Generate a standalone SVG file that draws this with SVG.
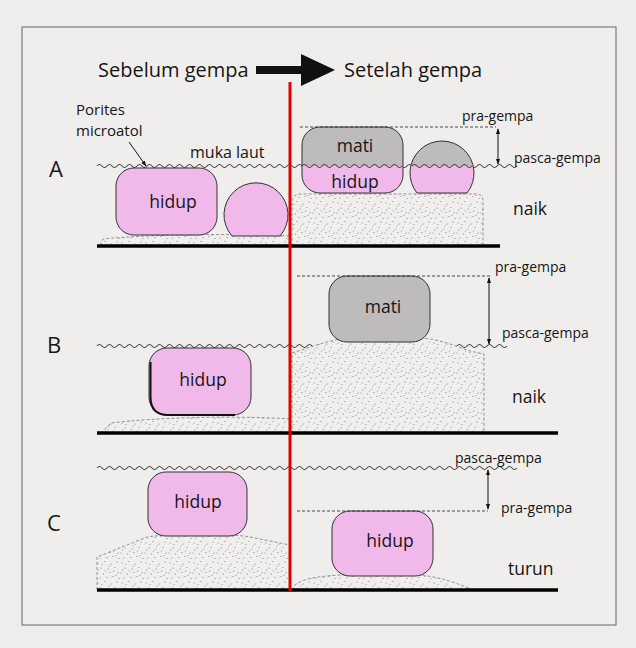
<svg xmlns="http://www.w3.org/2000/svg" width="636" height="648" viewBox="0 0 636 648">
  <defs>
    <style>
      text { font-family: "Open Sans", "Liberation Sans", sans-serif; fill: #161616; }
      .title { font-size: 20px; }
      .panel { font-size: 22px; }
      .lbl { font-size: 17.5px; }
      .small { font-size: 14px; }
      .wave { fill: none; stroke: #444; stroke-width: 1.1; }
      .coral { stroke: #333; stroke-width: 1; }
      .live { fill: #f0b9ea; }
      .dead { fill: #bdbbbb; }
      .sed { fill: url(#stipple); stroke: #888; stroke-width: 0.9; stroke-dasharray: 3 2; }
      .ground { stroke: #000; stroke-width: 3.5; }
      .level { stroke: #333; stroke-width: 0.9; stroke-dasharray: 3 2; }
      .dim { stroke: #111; stroke-width: 1; marker-start: url(#tip); marker-end: url(#tip); }
    </style>
    <pattern id="stipple" width="24" height="20" patternUnits="userSpaceOnUse">
      <rect width="24" height="20" fill="#f1efed"/>
      <g fill="#777">
        <circle cx="2" cy="3" r="0.6"/><circle cx="9" cy="1.5" r="0.55"/><circle cx="15" cy="4" r="0.6"/>
        <circle cx="21" cy="2" r="0.55"/><circle cx="5" cy="8" r="0.55"/><circle cx="12" cy="9" r="0.6"/>
        <circle cx="19" cy="7.5" r="0.55"/><circle cx="1" cy="13" r="0.55"/><circle cx="7.5" cy="14" r="0.6"/>
        <circle cx="14" cy="12.5" r="0.55"/><circle cx="22" cy="13" r="0.6"/><circle cx="4" cy="18" r="0.55"/>
        <circle cx="11" cy="17.5" r="0.6"/><circle cx="17" cy="16.5" r="0.55"/><circle cx="23" cy="18.5" r="0.55"/>
        <circle cx="6" cy="4.5" r="0.5"/><circle cx="17.5" cy="11" r="0.5"/><circle cx="9.5" cy="11" r="0.5"/>
        <circle cx="20" cy="15.5" r="0.5"/><circle cx="2.5" cy="10" r="0.5"/><circle cx="13" cy="6" r="0.5"/>
      </g>
    </pattern>
    <!-- hard split: dead (grey) above the post-quake sea level, live (pink) below -->
    <linearGradient id="split" gradientUnits="userSpaceOnUse" x1="0" y1="0" x2="0" y2="648">
      <stop offset="0.2562" stop-color="#bdbbbb"/>
      <stop offset="0.2562" stop-color="#f0b9ea"/>
    </linearGradient>
    <marker id="tip" viewBox="0 0 8 8" refX="7" refY="4" markerWidth="6" markerHeight="6" orient="auto-start-reverse" markerUnits="userSpaceOnUse">
      <path d="M0,1.2 L8,4 L0,6.8 Z" fill="#111"/>
    </marker>
  </defs>

  <!-- page and frame -->
  <rect width="636" height="648" fill="#efedeb"/>
  <rect x="22" y="27" width="594" height="598" fill="#f0eeec" stroke="#666" stroke-width="1"/>

  <!-- heading -->
  <g id="heading">
    <text class="title" x="98" y="77">Sebelum gempa</text>
    <path d="M256,66 L301,66 L301,54 L335,70 L301,86 L301,74 L256,74 Z" fill="#111"/>
    <text class="title" x="344" y="77">Setelah gempa</text>
  </g>

  <!-- sea-level waves -->
  <g id="waves">
    <path class="wave" d="M97,166 q2.5,-3 5,0 t5,0 t5,0 t5,0 t5,0 t5,0 t5,0 t5,0 t5,0 t5,0 t5,0 t5,0 t5,0 t5,0 t5,0 t5,0 t5,0 t5,0 t5,0 t5,0 t5,0 t5,0 t5,0 t5,0 t5,0 t5,0 t5,0 t5,0 t5,0 t5,0 t5,0 t5,0 t5,0 t5,0 t5,0 t5,0 t5,0 t5,0 t5,0 t5,0 t5,0 t5,0 t5,0 t5,0 t5,0 t5,0 t5,0 t5,0 t5,0 t5,0 t5,0 t5,0 t5,0 t5,0 t5,0 t5,0 t5,0 t5,0 t5,0 t5,0 t5,0 t5,0 t5,0 t5,0 t5,0 t5,0 t5,0 t5,0 t5,0 t5,0 t5,0 t5,0 t5,0 t5,0 t5,0 t5,0 t5,0 t5,0 t5,0 t5,0 t5,0 t5,0 t5,0 t5,0"/>
    <path class="wave" d="M97,346 q2.5,-3 5,0 t5,0 t5,0 t5,0 t5,0 t5,0 t5,0 t5,0 t5,0 t5,0 t5,0 t5,0 t5,0 t5,0 t5,0 t5,0 t5,0 t5,0 t5,0 t5,0 t5,0 t5,0 t5,0 t5,0 t5,0 t5,0 t5,0 t5,0 t5,0 t5,0 t5,0 t5,0 t5,0 t5,0 t5,0 t5,0 t5,0 t5,0 t5,0 t5,0 t5,0 t5,0 t5,0 t5,0 t5,0 t5,0 t5,0 t5,0 t5,0 t5,0 t5,0 t5,0 t5,0 t5,0 t5,0 t5,0 t5,0 t5,0 t5,0 t5,0 t5,0 t5,0 t5,0 t5,0 t5,0 t5,0 t5,0 t5,0 t5,0 t5,0 t5,0 t5,0 t5,0 t5,0 t5,0 t5,0 t5,0 t5,0 t5,0 t5,0 t5,0 t5,0"/>
    <path class="wave" d="M97,468 q2.5,-3 5,0 t5,0 t5,0 t5,0 t5,0 t5,0 t5,0 t5,0 t5,0 t5,0 t5,0 t5,0 t5,0 t5,0 t5,0 t5,0 t5,0 t5,0 t5,0 t5,0 t5,0 t5,0 t5,0 t5,0 t5,0 t5,0 t5,0 t5,0 t5,0 t5,0 t5,0 t5,0 t5,0 t5,0 t5,0 t5,0 t5,0 t5,0 t5,0 t5,0 t5,0 t5,0 t5,0 t5,0 t5,0 t5,0 t5,0 t5,0 t5,0 t5,0 t5,0 t5,0 t5,0 t5,0 t5,0 t5,0 t5,0 t5,0 t5,0 t5,0 t5,0 t5,0 t5,0 t5,0 t5,0 t5,0 t5,0 t5,0 t5,0 t5,0 t5,0 t5,0 t5,0 t5,0 t5,0 t5,0 t5,0 t5,0 t5,0 t5,0 t5,0 t5,0 t5,0 t5,0"/>
  </g>

  <!-- Panel A: uplift, coral tops die above new sea level -->
  <g id="panel-a">
    <text class="panel" x="49" y="177">A</text>
    <text x="76" y="115" style="font-size:15px">Porites</text>
    <text x="76" y="136" style="font-size:15px">microatol</text>
    <text x="190" y="158" style="font-size:16px">muka laut</text>
    <path class="sed" d="M100,245 L103,239 C140,235 220,233 290,236 L290,245 Z"/>
    <path class="sed" d="M292,246 L292,201 Q293,194 301,194 L477,194 Q483,195 483,201 L483,246 Z"/>
  </g>
  <g id="coral-a-before">
    <rect class="coral live" x="116" y="168" width="101" height="67" rx="18"/>
    <text class="lbl" x="173" y="208" text-anchor="middle">hidup</text>
    <path class="coral live" d="M232,236 A32,32 0 1 1 280,236 Z"/>
  </g>
  <g id="coral-a-after">
    <rect class="coral" x="302" y="127" width="101" height="66" rx="18" fill="url(#split)"/>
    <path class="coral" d="M417,193 A32,32 0 1 1 467,193 Z" fill="url(#split)"/>
    <text class="lbl" x="355" y="152" text-anchor="middle">mati</text>
    <text class="lbl" x="355" y="188" text-anchor="middle">hidup</text>
    <path class="wave" d="M302,166 q2.5,-3 5,0 t5,0 t5,0 t5,0 t5,0 t5,0 t5,0 t5,0 t5,0 t5,0 t5,0 t5,0 t5,0 t5,0 t5,0 t5,0 t5,0 t5,0 t5,0 t5,0"/>
    <path class="wave" d="M412,166 q2.5,-3 5,0 t5,0 t5,0 t5,0 t5,0 t5,0 t5,0 t5,0 t5,0 t5,0 t5,0 t5,0"/>
  </g>
  <g id="levels-a">
    <line class="level" x1="300" y1="127" x2="496" y2="127"/>
    <line class="dim" x1="498" y1="129" x2="498" y2="164"/>
    <text class="small" x="462" y="121">pra-gempa</text>
    <text class="small" x="514" y="163">pasca-gempa</text>
    <text class="lbl" x="513" y="215">naik</text>
  </g>

  <!-- Panel B: larger uplift, whole colony dies -->
  <g id="panel-b">
    <text class="panel" x="47" y="353">B</text>
    <path class="sed" d="M101,433 L111,423 C150,418 230,415 290,419 L290,433 Z"/>
    <path class="sed" d="M292,433 L292,353 C312,347 330,339 352,338 L420,338 C440,339 455,346 470,351 L484,354 L484,433 Z"/>
  </g>
  <g id="coral-b-before">
    <rect class="coral live" x="149" y="348" width="102" height="67" rx="18"/>
    <path d="M150.5,362 L150.5,397 Q150.5,415 168,415 L235,415" fill="none" stroke="#111" stroke-width="2"/>
    <text class="lbl" x="203" y="386" text-anchor="middle">hidup</text>
  </g>
  <g id="coral-b-after">
    <rect class="coral dead" x="329" y="276" width="101" height="66" rx="18"/>
    <text class="lbl" x="383" y="313" text-anchor="middle">mati</text>
  </g>
  <g id="levels-b">
    <line class="level" x1="297" y1="276" x2="490" y2="276"/>
    <line class="dim" x1="489" y1="278" x2="489" y2="344"/>
    <text class="small" x="495" y="272">pra-gempa</text>
    <text class="small" x="502" y="338">pasca-gempa</text>
    <text class="lbl" x="512" y="403">naik</text>
  </g>

  <!-- Panel C: subsidence, colony drowned below new sea level -->
  <g id="panel-c">
    <text class="panel" x="47" y="531">C</text>
    <path class="sed" d="M97,590 L97,557 L147,537 C165,534 230,533 250,537 L290,545 L290,590 Z"/>
    <path class="sed" d="M292,590 L296,584 C305,578 322,576 340,575 L420,575 C440,577 460,584 473,590 Z"/>
  </g>
  <g id="coral-c-before">
    <rect class="coral live" x="148" y="472" width="99" height="64" rx="18"/>
    <text class="lbl" x="198" y="508" text-anchor="middle">hidup</text>
  </g>
  <g id="coral-c-after">
    <rect class="coral live" x="332" y="511" width="101" height="65" rx="18"/>
    <text class="lbl" x="390" y="547" text-anchor="middle">hidup</text>
  </g>
  <g id="levels-c">
    <line class="level" x1="297" y1="511" x2="488" y2="511"/>
    <line class="dim" x1="488" y1="470" x2="488" y2="509"/>
    <text class="small" x="455" y="463">pasca-gempa</text>
    <text class="small" x="501" y="513">pra-gempa</text>
    <text class="lbl" x="508" y="575">turun</text>
  </g>

  <!-- connectors: bases, divider, pointer -->
  <g id="connectors">
    <line class="ground" x1="97" y1="246" x2="500" y2="246"/>
    <line class="ground" x1="97" y1="433" x2="558" y2="433"/>
    <line class="ground" x1="97" y1="590" x2="558" y2="590"/>
    <line x1="290" y1="82" x2="290" y2="591" stroke="#e30000" stroke-width="3"/>
    <line x1="129" y1="142" x2="146" y2="166" stroke="#111" stroke-width="1" marker-end="url(#tip)"/>
  </g>
</svg>
